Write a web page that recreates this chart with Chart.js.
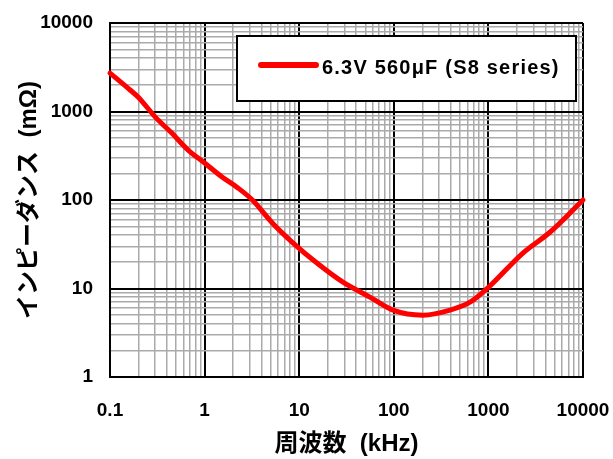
<!DOCTYPE html>
<html>
<head>
<meta charset="utf-8">
<script src="https://cdn.jsdelivr.net/npm/chart.js@4.4.1/dist/chart.umd.min.js"></script>
<style>
  html, body { margin: 0; padding: 0; background: #fff; }
  #wrap { width: 613px; height: 459px; }
</style>
</head>
<body>
<div id="wrap"><canvas id="myChart"></canvas></div>
<script>
// frequency (kHz) and impedance (mOhm)
var freq = [0.1, 0.163, 0.198, 0.30, 0.45, 0.67, 1.0, 1.53, 2.25, 3.2, 5.2, 8.4, 15.4, 29, 56, 98, 204, 393, 640, 1000, 2300, 4500, 10000];
var impedance = [2720, 1750, 1460, 870, 570, 367, 262, 182, 137, 100, 55, 33.5, 19.4, 11.8, 8.0, 5.7, 5.0, 5.7, 7.0, 10.3, 25, 43.5, 100];
var seriesLabel = '6.3V 560\u03bcF (S8 series)';
var xDecades = [0.1, 1, 10, 100, 1000, 10000];
var yDecades = [1, 10, 100, 1000, 10000];

var points = freq.map(function (f, i) { return { x: f, y: impedance[i] }; });

// 1..9 ticks in each decade, labels only on the decades
function logTicks(decades) {
  var t = [];
  for (var i = 0; i < decades.length; i++) {
    var d = decades[i];
    if (i === decades.length - 1) { t.push(d); break; }
    for (var k = 1; k < 10; k++) t.push(d * k);
  }
  return t;
}
function isDecade(v) {
  var l = Math.log10(v);
  return Math.abs(l - Math.round(l)) < 1e-6;
}
function fmt(v) { return v < 1 ? v.toFixed(1) : String(Math.round(v)); }

var tickFont = { family: '"Liberation Sans", Arial, sans-serif', size: 19, weight: 'bold' };
var titleFont = { family: '"Liberation Sans", "Noto Sans CJK JP", sans-serif', size: 24, weight: 'bold' };

// legend with a box, drawn inside the plot area
var boxLegend = {
  id: 'boxLegend',
  afterDraw: function (chart) {
    var c = chart.ctx;
    c.save();
    c.fillStyle = '#fff';
    c.fillRect(237, 36, 339, 65);
    c.strokeStyle = '#000';
    c.lineWidth = 2;
    c.strokeRect(237, 36, 339, 65);
    c.strokeStyle = '#ff0000';
    c.lineWidth = 6;
    c.lineCap = 'round';
    c.beginPath();
    c.moveTo(261, 65);
    c.lineTo(316, 65);
    c.stroke();
    c.fillStyle = '#000';
    c.font = 'bold 20px "Liberation Sans", Arial, sans-serif';
    c.letterSpacing = '1.2px';
    c.textBaseline = 'middle';
    c.fillText(chart.data.datasets[0].label, 322, 68);
    c.restore();
  }
};

function noPadding(s) {
  s.paddingLeft = 0;
  s.paddingRight = 0;
  s.paddingTop = 0;
  s.paddingBottom = 0;
}

var ctx = document.getElementById('myChart').getContext('2d');
var myChart = new Chart(ctx, {
  type: 'line',
  data: {
    datasets: [{
      label: seriesLabel,
      data: points,
      borderColor: '#ff0000',
      backgroundColor: '#ff0000',
      borderWidth: 5,
      pointRadius: 0,
      cubicInterpolationMode: 'monotone',
      borderCapStyle: 'round',
      clip: false
    }]
  },
  options: {
    responsive: true,
    maintainAspectRatio: false,
    animation: false,
    layout: { padding: { left: 0, right: 30, top: 23, bottom: 0 } },
    plugins: {
      legend: { display: false },
      tooltip: { enabled: false }
    },
    scales: {
      x: {
        type: 'logarithmic',
        min: 0.1,
        max: 10000,
        afterBuildTicks: function (s) { s.ticks = logTicks(xDecades).map(function (v) { return { value: v }; }); },
        afterFit: function (s) { s.height = 82; noPadding(s); },
        ticks: {
          autoSkip: false,
          maxRotation: 0,
          padding: 22,
          color: '#000',
          font: tickFont,
          callback: function (v) { return isDecade(v) ? fmt(v) : ''; }
        },
        grid: {
          drawTicks: false,
          color: function (c) { return isDecade(c.tick.value) ? '#000' : '#aaaaaa'; },
          lineWidth: function (c) { return isDecade(c.tick.value) ? 2 : 1.5; }
        },
        border: { color: '#000', width: 2 },
        title: {
          display: true,
          text: '周波数  (kHz)',
          color: '#000',
          font: titleFont,
          padding: { top: 0, bottom: 0 }
        }
      },
      y: {
        type: 'logarithmic',
        min: 1,
        max: 10000,
        afterBuildTicks: function (s) { s.ticks = logTicks(yDecades).map(function (v) { return { value: v }; }); },
        afterFit: function (s) { s.width = 110; noPadding(s); },
        ticks: {
          autoSkip: false,
          padding: 17,
          color: '#000',
          font: tickFont,
          callback: function (v) { return isDecade(v) ? fmt(v) : ''; }
        },
        grid: {
          drawTicks: false,
          color: function (c) { return isDecade(c.tick.value) ? '#000' : '#aaaaaa'; },
          lineWidth: function (c) { return isDecade(c.tick.value) ? 2 : 1.5; }
        },
        border: { color: '#000', width: 2 },
        title: {
          display: true,
          text: 'インピーダンス  (mΩ)',
          color: '#000',
          font: titleFont,
          padding: { top: 15, bottom: 0 }
        }
      }
    }
  },
  plugins: [boxLegend]
});
</script>
</body>
</html>
